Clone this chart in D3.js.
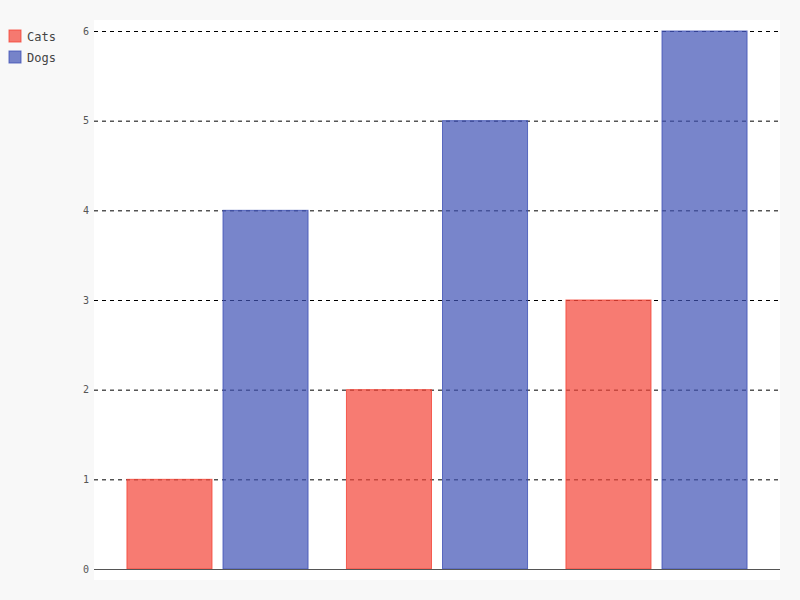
<!DOCTYPE html>
<html>
<head>
<meta charset="utf-8">
<script src="https://cdn.jsdelivr.net/npm/d3@7"></script>
<style>
  body { margin: 0; background: #f8f8f8; }
  svg { display: block; }
</style>
</head>
<body>
<svg width="800" height="600"></svg>
<script>
// chart data
const groups = ["A", "B", "C"];
const seriesNames = ["Cats", "Dogs"];
const cats = [1, 2, 3];
const dogs = [4, 5, 6];
const yTicks = [0, 1, 2, 3, 4, 5, 6];
const colors = ["#F44336", "#3F51B5"];

const values = [cats, dogs];
const font = "'DejaVu Sans Mono', Consolas, 'Liberation Mono', monospace";

const svg = d3.select("svg");
const plot = { left: 94, right: 780, top: 20, bottom: 580 };

svg.append("rect")
  .attr("width", 800).attr("height", 600)
  .attr("fill", "#f8f8f8");

svg.append("rect")
  .attr("x", plot.left).attr("y", plot.top)
  .attr("width", plot.right - plot.left)
  .attr("height", plot.bottom - plot.top)
  .attr("fill", "#fff");

const y = d3.scaleLinear().domain([0, 6]).range([569, 31]);

const x0 = d3.scaleBand()
  .domain(groups)
  .range([107.75, 766.25])
  .paddingInner(0.175)
  .paddingOuter(0.0875);

const x1 = d3.scaleBand()
  .domain(seriesNames)
  .range([0, x0.bandwidth()])
  .paddingInner(0.1146);

// guides
const g = svg.append("g");
yTicks.forEach(function(t) {
  if (t !== 0) {
    g.append("line")
      .attr("x1", plot.left).attr("x2", plot.right)
      .attr("y1", y(t) + 0.5).attr("y2", y(t) + 0.5)
      .attr("stroke", "#000")
      .attr("stroke-dasharray", "4,4");
  }
  g.append("text")
    .attr("x", plot.left - 5)
    .attr("y", y(t) + 3.5)
    .attr("text-anchor", "end")
    .attr("font-family", font)
    .attr("font-size", "10px")
    .attr("fill", "#555")
    .text(t);
});

// bars
seriesNames.forEach(function(name, si) {
  svg.append("g")
    .selectAll("rect")
    .data(groups)
    .enter()
    .append("rect")
    .attr("x", function(d) { return x0(d) + x1(name); })
    .attr("y", function(d, i) { return y(values[si][i]); })
    .attr("width", x1.bandwidth())
    .attr("height", function(d, i) { return y(0) - y(values[si][i]); })
    .attr("fill", colors[si])
    .attr("fill-opacity", 0.7)
    .attr("stroke", colors[si])
    .attr("stroke-opacity", 0.8)
    .attr("stroke-width", 1);
});

// axis line
svg.append("line")
  .attr("x1", plot.left).attr("x2", plot.right)
  .attr("y1", y(0) + 0.5).attr("y2", y(0) + 0.5)
  .attr("stroke", "#555");

// legend
const legend = svg.append("g");
seriesNames.forEach(function(name, i) {
  const row = legend.append("g")
    .attr("transform", "translate(9," + (30 + i * 21) + ")");
  row.append("rect")
    .attr("width", 12).attr("height", 12)
    .attr("fill", colors[i])
    .attr("fill-opacity", 0.7)
    .attr("stroke", colors[i])
    .attr("stroke-opacity", 0.8);
  row.append("text")
    .attr("x", 18)
    .attr("y", 11)
    .attr("font-family", font)
    .attr("font-size", "12px")
    .attr("fill", "#444")
    .text(name);
});
</script>
</body>
</html>
